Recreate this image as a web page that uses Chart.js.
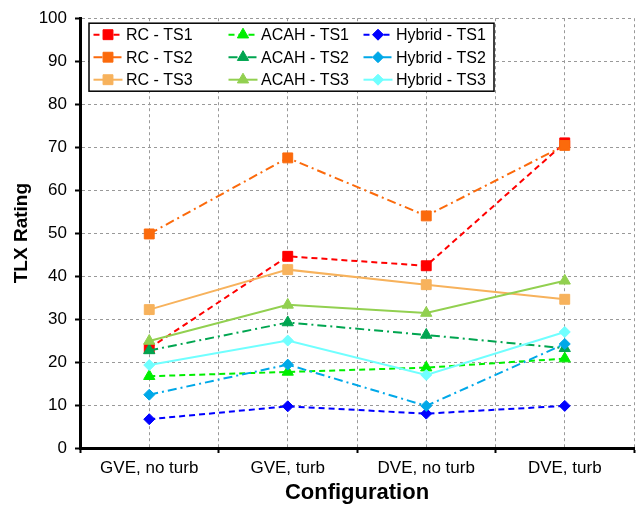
<!DOCTYPE html>
<html>
<head>
<meta charset="utf-8">
<script src="https://cdn.jsdelivr.net/npm/chart.js@4/dist/chart.umd.min.js"></script>
<style>
  body { margin: 0; background: #fff; }
  canvas { display: block; }
</style>
</head>
<body>
<canvas id="tlx" width="642" height="507"></canvas>
<script>
// TLX ratings per configuration, one array per control system / task setup
const categories = ['GVE, no turb', 'GVE, turb', 'DVE, no turb', 'DVE, turb'];

const rcTS1 = [23.2, 44.6, 42.4, 71.0];
const rcTS2 = [49.8, 67.5, 54.0, 70.4];
const rcTS3 = [32.2, 41.5, 38.0, 34.6];
const acahTS1 = [16.7, 17.7, 18.7, 20.8];
const acahTS2 = [22.7, 29.2, 26.3, 23.2];
const acahTS3 = [24.9, 33.3, 31.4, 38.9];
const hybridTS1 = [6.7, 9.7, 8.0, 9.8];
const hybridTS2 = [12.4, 19.4, 9.8, 24.2];
const hybridTS3 = [19.3, 25.0, 17.0, 27.0];

const yMin = 0, yMax = 100, yStep = 10;

const FONT = '"Liberation Sans", Arial, sans-serif';
const dashed = [6, 4];
const dashDot = [9, 4, 2, 4];

const series = [
  { label: 'RC - TS1', data: rcTS1, color: '#ff0000', dash: dashed, style: 'rect', r: 7 },
  { label: 'RC - TS2', data: rcTS2, color: '#fb6a0c', dash: dashDot, style: 'rect', r: 7 },
  { label: 'RC - TS3', data: rcTS3, color: '#f7b25c', dash: [], style: 'rect', r: 7 },
  { label: 'ACAH - TS1', data: acahTS1, color: '#00ee00', dash: dashed, style: 'triangle', r: 6.5 },
  { label: 'ACAH - TS2', data: acahTS2, color: '#00a550', dash: dashDot, style: 'triangle', r: 6.5 },
  { label: 'ACAH - TS3', data: acahTS3, color: '#92d050', dash: [], style: 'triangle', r: 6.5 },
  { label: 'Hybrid - TS1', data: hybridTS1, color: '#0000ff', dash: dashed, style: 'rectRot', r: 5.5 },
  { label: 'Hybrid - TS2', data: hybridTS2, color: '#00a8e8', dash: dashDot, style: 'rectRot', r: 5.5 },
  { label: 'Hybrid - TS3', data: hybridTS3, color: '#70ffff', dash: [], style: 'rectRot', r: 5.5 }
];

const datasets = series.map((s, i) => ({
  label: s.label,
  data: s.data.map((v, k) => ({ x: k, y: v })),
  borderColor: s.color,
  backgroundColor: s.color,
  borderWidth: 2,
  borderDash: s.dash,
  pointStyle: s.style,
  pointRadius: s.r,
  pointBorderWidth: 1,
  pointBorderColor: s.color,
  pointBackgroundColor: s.color,
  tension: 0,
  order: series.length - i   // later series end up on top
}));

// boxed 3x3 legend in the upper left of the plot, filled column by column
const boxLegend = {
  id: 'boxLegend',
  afterDraw(chart) {
    const ctx = chart.ctx;
    const area = chart.chartArea;
    const left = area.left + 9, top = area.top + 5;
    const w = 405, h = 68;
    ctx.save();
    ctx.fillStyle = '#fff';
    ctx.fillRect(left, top, w, h);
    ctx.lineWidth = 1.5;
    ctx.strokeStyle = '#000';
    ctx.setLineDash([]);
    ctx.strokeRect(left, top, w, h);

    ctx.font = '16px ' + FONT;
    ctx.textBaseline = 'middle';
    ctx.textAlign = 'left';
    series.forEach((s, i) => {
      const col = Math.floor(i / 3), row = i % 3;
      const x0 = left + 4.5 + col * 135;
      const y = top + 11.5 + row * 22.5;
      ctx.strokeStyle = s.color;
      ctx.lineWidth = 2;
      ctx.setLineDash(s.dash);
      ctx.beginPath();
      ctx.moveTo(x0, y);
      ctx.lineTo(x0 + 29, y);
      ctx.stroke();
      ctx.setLineDash([]);
      ctx.fillStyle = s.color;
      ctx.strokeStyle = s.color;
      ctx.lineWidth = 1;
      Chart.helpers.drawPoint(ctx, { pointStyle: s.style, radius: s.r, rotation: 0, borderWidth: 1 }, x0 + 14.5, y);
      ctx.fillStyle = '#000';
      ctx.fillText(s.label, x0 + 32.5, y + 1);
    });
    ctx.restore();
  }
};

new Chart(document.getElementById('tlx'), {
  type: 'line',
  data: { datasets },
  plugins: [boxLegend],
  options: {
    responsive: false,
    animation: false,
    layout: { padding: { top: 18, right: 3, left: 0, bottom: 0 } },
    plugins: {
      legend: { display: false },
      tooltip: { enabled: false }
    },
    scales: {
      x: {
        type: 'linear',
        min: -0.5,
        max: 3.5,
        afterFit(scale) { scale.height = 59; },
        ticks: {
          stepSize: 0.5,
          autoSkip: false,
          maxRotation: 0,
          padding: 5,
          color: '#000',
          font: { family: FONT, size: 17 },
          callback: v => Number.isInteger(v) ? categories[v] : ''
        },
        grid: {
          color: '#999',
          lineWidth: 1,
          tickLength: 5,
          tickWidth: 2,
          tickColor: c => (c.tick && Number.isInteger(c.tick.value)) ? 'rgba(0,0,0,0)' : '#000'
        },
        border: { display: true, color: '#000', width: 3, dash: [3, 3] },
        title: {
          display: true,
          text: 'Configuration',
          color: '#000',
          font: { family: FONT, size: 22, weight: 'bold' },
          padding: { top: 0, bottom: 1 }
        }
      },
      y: {
        min: yMin,
        max: yMax,
        afterFit(scale) { scale.width = 80; },
        ticks: {
          stepSize: yStep,
          padding: 8,
          color: '#000',
          font: { family: FONT, size: 17 }
        },
        grid: {
          color: '#999',
          lineWidth: 1,
          tickLength: 5,
          tickWidth: 2,
          tickColor: '#000'
        },
        border: { display: true, color: '#000', width: 3, dash: [3, 3] },
        title: {
          display: true,
          text: 'TLX Rating',
          color: '#000',
          font: { family: FONT, size: 19, weight: 'bold' },
          padding: { top: 10, bottom: 0 }
        }
      }
    }
  }
});
</script>
</body>
</html>
